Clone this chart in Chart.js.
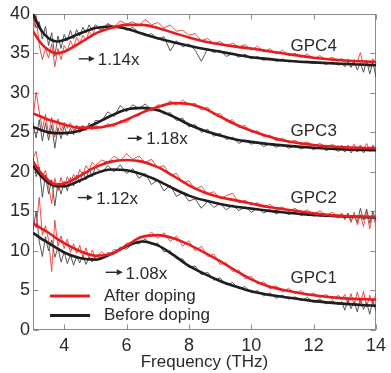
<!DOCTYPE html>
<html><head><meta charset="utf-8">
<script src="https://cdn.jsdelivr.net/npm/chart.js@4.4.0/dist/chart.umd.min.js"></script>
<style>html,body{margin:0;padding:0;background:#fff}</style>
</head><body>
<canvas id="c" width="391" height="373"></canvas>
<script>
const xTicks = [4, 6, 8, 10, 12, 14];
const yTicks = [0, 5, 10, 15, 20, 25, 30, 35, 40];
const groupNames = ['GPC1', 'GPC2', 'GPC3', 'GPC4'];
const ratioLabels = ['1.08x', '1.12x', '1.18x', '1.14x'];
const legendLabels = ['After doping', 'Before doping'];

// smooth fitted curves
const freqFit = [3, 3.25, 3.5, 3.75, 4, 4.5, 5, 5.5, 6, 6.5, 7, 7.5, 8, 8.5, 9, 9.5, 10, 10.5, 11, 12, 13, 14];
const fitB4 = [40.0,38.0,36.9,36.5,36.7,37.5,38.2,38.4,38.1,37.5,36.9,36.4,35.95,35.55,35.2,34.85,34.5,34.3,34.1,33.85,33.65,33.5];
const fitR4 = [37.8,36.3,35.4,35.0,35.2,36.3,37.5,38.2,38.6,38.6,38.2,37.6,37.0,36.5,36.15,35.85,35.6,35.3,35.0,34.45,34.1,33.9];
const fitB3 = [25.7,25.3,25.0,24.9,24.9,25.2,26.1,27.1,27.9,28.1,27.8,27.0,26.0,25.2,24.6,24.1,23.8,23.55,23.35,23.05,22.85,22.75];
const fitR3 = [27.4,27.0,26.6,26.3,26.0,25.6,25.6,25.9,26.6,27.5,28.2,28.7,28.6,28.0,27.0,26.0,25.2,24.55,24.0,23.4,23.1,23.0];
const fitB2 = [20.8,19.5,18.6,18.2,18.2,18.9,19.8,20.3,20.2,19.7,18.9,17.9,17.0,16.4,15.95,15.6,15.35,15.1,14.9,14.55,14.35,14.25];
const fitR2 = [21.3,19.9,18.9,18.4,18.5,19.5,20.6,21.3,21.5,21.3,20.6,19.5,18.3,17.4,16.8,16.4,16.0,15.6,15.3,14.75,14.4,14.3];
const fitB1 = [12.3,11.6,11.0,10.4,9.8,9.1,8.9,9.6,10.6,11.2,10.7,9.5,8.1,7.1,6.2,5.5,4.9,4.5,4.2,3.65,3.3,3.05];
const fitR1 = [13.5,12.9,12.3,11.6,11.0,10.0,9.4,9.6,10.7,11.8,12.0,11.6,10.8,9.8,8.7,7.5,6.4,5.6,5.1,4.4,4.0,3.85];

// measured (noisy) spectra
const freqRaw = [3.0,3.1,3.2,3.3,3.4,3.5,3.6,3.7,3.8,3.9,4.0,4.1,4.2,4.3,4.4,4.5,4.6,4.7,4.8,4.9,5.0,
  5.2,5.4,5.6,5.8,6.0,6.2,6.4,6.6,6.8,7.0,7.2,7.4,7.6,7.8,8.0,8.2,8.4,8.6,8.8,9.0,9.2,9.4,9.6,9.8,10.0,10.2,10.4,10.6,10.8,11.0,11.2,11.4,11.6,11.8,12.0,12.2,12.4,12.6,12.8,
  12.9,13.0,13.1,13.2,13.3,13.4,13.5,13.6,13.7,13.8,13.9,14.0];
const rawB4 = [39.8,38.2,39.0,36.8,38.4,36.0,37.6,34.6,37.2,35.6,37.4,36.6,37.9,36.8,38.0,37.2,38.3,37.6,38.6,37.9,38.6,
  38.0,38.7,38.2,38.6,37.9,38.3,37.6,37.2,37.5,36.8,37.1,35.3,36.6,35.8,36.2,35.4,34.0,35.6,35.1,35.4,34.6,35.0,34.5,34.9,34.3,34.6,34.1,34.4,34.0,34.3,33.9,34.1,33.8,34.0,33.7,33.9,33.6,33.9,33.5,
  33.8,33.3,33.9,33.2,34.0,32.9,33.8,32.6,34.1,32.4,33.9,32.0];
const rawR4 = [37.6,39.8,36.0,34.2,35.6,34.4,36.2,33.3,35.6,34.2,36.0,35.3,36.6,35.8,37.0,36.3,37.3,36.6,37.8,37.2,38.3,
  37.9,38.8,38.3,39.1,38.7,39.0,38.5,39.3,38.6,38.9,38.2,38.6,37.8,37.9,37.3,37.5,36.6,36.9,36.2,36.5,35.9,36.3,35.8,36.1,35.4,35.9,35.2,35.6,34.9,35.4,34.7,35.0,34.5,34.9,34.3,34.7,34.2,34.5,34.0,
  34.4,33.7,34.3,33.5,34.2,33.9,35.1,33.4,34.1,33.2,34.3,33.6];
const rawB3 = [26.2,24.3,26.6,23.9,26.2,24.0,25.9,23.0,25.6,24.2,25.8,24.6,25.5,24.7,25.9,25.0,25.8,25.3,26.2,25.6,26.5,
  26.4,27.6,27.0,28.4,27.6,28.5,28.0,28.6,27.8,28.2,27.3,27.5,26.5,26.8,25.7,26.0,25.0,25.4,24.5,24.9,24.1,24.4,23.6,24.0,23.5,23.8,23.2,23.6,23.1,23.5,23.0,23.3,22.9,23.2,22.8,23.2,22.7,23.0,22.6,
  23.0,22.5,23.1,22.4,23.0,22.5,23.2,22.4,23.0,22.6,23.3,22.6];
const rawR3 = [26.8,30.1,27.6,25.4,27.3,24.7,26.9,24.4,26.7,25.2,26.3,25.5,26.2,25.2,25.8,25.3,25.9,25.2,25.8,25.3,25.9,
  25.5,26.1,25.7,26.5,26.2,27.0,27.1,27.9,27.7,28.5,28.3,29.0,28.4,29.1,28.5,28.7,27.8,28.2,27.2,27.4,26.4,26.6,25.6,25.9,25.0,25.2,24.4,24.7,23.9,24.3,23.7,24.0,23.5,23.8,23.3,23.6,23.1,23.5,23.0,
  23.4,22.8,23.4,22.9,23.5,22.7,23.4,22.8,23.6,22.7,23.4,22.9];
const rawB2 = [21.9,19.4,20.6,16.8,19.6,17.2,19.0,15.7,18.6,17.2,18.8,17.6,19.3,18.2,19.6,18.6,20.0,19.0,20.4,19.4,20.6,
  19.9,20.8,20.0,20.9,19.8,20.4,19.2,19.8,18.4,19.0,17.6,18.3,16.9,17.4,16.3,16.6,15.4,16.3,15.5,16.0,15.2,15.8,15.1,15.6,14.9,15.4,14.8,15.2,14.7,15.0,14.6,14.9,14.5,14.8,14.4,14.7,14.3,14.6,14.2,
  14.6,14.0,14.8,13.8,14.5,13.6,15.4,13.9,15.3,13.5,15.0,13.8];
const rawR2 = [21.7,22.6,20.0,19.4,20.2,18.2,16.0,19.2,17.6,19.3,18.0,19.4,18.5,19.7,19.0,20.3,19.6,20.8,20.2,21.2,20.8,
  21.5,21.2,22.0,21.4,22.3,21.6,22.0,21.2,21.6,20.5,20.8,19.6,19.8,18.6,18.9,17.8,18.2,17.2,17.5,16.6,17.0,17.3,16.1,16.4,15.8,16.1,15.5,15.9,15.2,15.6,15.0,15.4,14.8,15.2,14.6,15.1,14.5,14.9,14.3,
  14.8,14.0,14.7,13.6,14.9,13.3,14.6,13.1,15.0,12.8,14.6,13.2];
const rawB1 = [12.6,15.0,11.2,9.3,11.8,10.0,11.4,9.2,10.4,8.6,9.9,8.4,9.5,8.2,9.3,8.5,9.4,8.3,9.2,8.6,9.4,
  9.0,9.8,9.6,10.5,10.2,11.0,10.9,11.5,10.8,11.0,9.9,10.0,9.0,9.0,7.9,8.1,7.0,7.3,6.3,6.6,5.7,6.0,5.2,5.5,4.7,5.0,4.3,4.7,4.0,4.4,3.9,4.2,3.7,4.1,3.5,3.9,3.3,3.7,3.2,
  3.6,2.5,3.8,2.7,3.6,2.3,3.9,2.6,3.5,2.0,3.8,2.4];
const rawR1 = [13.8,12.9,16.8,12.0,13.2,11.4,7.4,13.9,10.6,11.9,10.3,11.5,9.8,10.9,9.7,10.7,9.2,10.4,9.0,10.1,9.1,
  9.9,9.3,10.2,10.0,11.0,11.0,11.8,11.6,12.4,11.6,12.3,11.2,11.9,10.6,11.3,10.0,10.6,9.3,9.6,8.3,8.5,7.4,7.6,6.5,6.8,5.8,6.1,5.2,5.6,4.8,5.3,4.6,5.0,4.3,4.7,4.1,4.5,3.9,4.4,
  3.8,4.5,3.3,4.6,3.1,4.8,3.4,4.9,2.9,4.4,3.2,4.6];

const RED = '#e41e20', RED_RAW = '#ec3a36', BLK = '#1e1e1e', BLK_RAW = '#444444';
const FONT = "'Liberation Sans', Arial, Helvetica, sans-serif";
const TXT = '#2a2a2a';

function pts(xs, ys) { return xs.map((x, i) => ({ x: x, y: ys[i] })); }
function rawSet(ys, color, order) {
  return { data: pts(freqRaw, ys), borderColor: color, borderWidth: 0.9, pointRadius: 0, tension: 0, order: order };
}
function fitSet(ys, color, order) {
  return { data: pts(freqFit, ys), borderColor: color, borderWidth: 2.6, pointRadius: 0, cubicInterpolationMode: 'monotone', order: order };
}

const datasets = [
  fitSet(fitR1, RED, 0), fitSet(fitR2, RED, 0), fitSet(fitR3, RED, 0), fitSet(fitR4, RED, 0),
  fitSet(fitB1, BLK, 1), fitSet(fitB2, BLK, 1), fitSet(fitB3, BLK, 1), fitSet(fitB4, BLK, 1),
  rawSet(rawR1, RED_RAW, 2), rawSet(rawR2, RED_RAW, 2), rawSet(rawR3, RED_RAW, 2), rawSet(rawR4, RED_RAW, 2),
  rawSet(rawB1, BLK_RAW, 3), rawSet(rawB2, BLK_RAW, 3), rawSet(rawB3, BLK_RAW, 3), rawSet(rawB4, BLK_RAW, 3)
];

// annotation anchors (data coordinates)
const groupPos = [[11.26, 5.9], [11.26, 16.06], [11.26, 24.6], [11.26, 35.25]];
const ratioPos = [[5.97, 6.46, 5.33, 5.88, 7.3], [5.03, 15.96, 4.44, 4.92, 16.75], [6.63, 23.54, 6.04, 6.52, 24.25], [5.08, 33.5, 4.47, 4.98, 34.3]];

const framePlugin = {
  id: 'frame',
  beforeDatasetsDraw(chart) {
    const { ctx, chartArea: a, scales: { x, y } } = chart;
    ctx.save();
    ctx.strokeStyle = '#8a8a8a';
    ctx.lineWidth = 1;
    const L = Math.round(a.left) + 0.5, R = Math.round(a.right) - 0.5, T = Math.round(a.top) + 0.5, B = Math.round(a.bottom) - 0.5;
    ctx.strokeRect(L, T, R - L, B - T);
    const tl = 5;
    ctx.beginPath();
    xTicks.forEach(v => {
      const px = Math.round(x.getPixelForValue(v)) + 0.5;
      ctx.moveTo(px, B); ctx.lineTo(px, B - tl);
      ctx.moveTo(px, T); ctx.lineTo(px, T + tl);
    });
    yTicks.forEach(v => {
      const py = Math.round(y.getPixelForValue(v)) + 0.5;
      ctx.moveTo(L, py); ctx.lineTo(L + tl, py);
      ctx.moveTo(R, py); ctx.lineTo(R - tl, py);
    });
    ctx.stroke();
    ctx.restore();
  },
  afterDatasetsDraw(chart) {
    const { ctx, chartArea: a, scales: { x, y } } = chart;
    ctx.save();
    ctx.font = '17px ' + FONT;
    ctx.fillStyle = TXT;
    ctx.textBaseline = 'alphabetic';
    ctx.textAlign = 'left';
    groupNames.forEach((t, i) => {
      ctx.fillText(t, x.getPixelForValue(groupPos[i][0]), y.getPixelForValue(groupPos[i][1]));
    });
    ratioLabels.forEach((t, i) => {
      const p = ratioPos[i];
      ctx.fillStyle = TXT;
      ctx.fillText(t, x.getPixelForValue(p[0]), y.getPixelForValue(p[1]));
      const x0 = x.getPixelForValue(p[2]), x1 = x.getPixelForValue(p[3]), py = y.getPixelForValue(p[4]);
      ctx.strokeStyle = TXT; ctx.lineWidth = 1.4;
      ctx.beginPath(); ctx.moveTo(x0, py); ctx.lineTo(x1 - 4, py); ctx.stroke();
      ctx.beginPath(); ctx.moveTo(x1, py); ctx.lineTo(x1 - 6, py - 3); ctx.lineTo(x1 - 6, py + 3); ctx.closePath(); ctx.fill();
    });
    // legend
    const lx = a.left + 17, lw = 40;
    [[RED, 296, 300.5], [BLK, 315.5, 320]].forEach((row, i) => {
      ctx.strokeStyle = row[0]; ctx.lineWidth = 3;
      ctx.beginPath(); ctx.moveTo(lx, row[1]); ctx.lineTo(lx + lw, row[1]); ctx.stroke();
      ctx.fillStyle = TXT;
      ctx.fillText(legendLabels[i], a.left + 71, row[2]);
    });
    ctx.restore();
  }
};

new Chart(document.getElementById('c'), {
  type: 'line',
  data: { datasets: datasets },
  options: {
    responsive: false,
    devicePixelRatio: 1,
    animation: false,
    events: [],
    layout: { autoPadding: false, padding: { top: 10, right: 13, left: 0, bottom: 0 } },
    plugins: { legend: { display: false }, tooltip: { enabled: false } },
    scales: {
      x: {
        type: 'linear', min: 3, max: 14,
        afterBuildTicks: s => { s.ticks = xTicks.map(v => ({ value: v })); },
        afterFit: s => { s.height = 43; },
        grid: { display: false, drawTicks: false },
        border: { display: false },
        ticks: { font: { family: FONT, size: 18 }, color: TXT, padding: 5, maxRotation: 0, autoSkip: false },
        title: { display: true, text: 'Frequency (THz)', font: { family: FONT, size: 17 }, color: TXT, padding: { top: 1, bottom: 0 } }
      },
      y: {
        type: 'linear', min: 0, max: 40,
        afterBuildTicks: s => { s.ticks = yTicks.map(v => ({ value: v })); },
        afterFit: s => { s.width = 33; },
        grid: { display: false, drawTicks: false },
        border: { display: false },
        ticks: { font: { family: FONT, size: 18 }, color: TXT, padding: 3, autoSkip: false }
      }
    }
  },
  plugins: [framePlugin]
});
</script>
</body></html>
